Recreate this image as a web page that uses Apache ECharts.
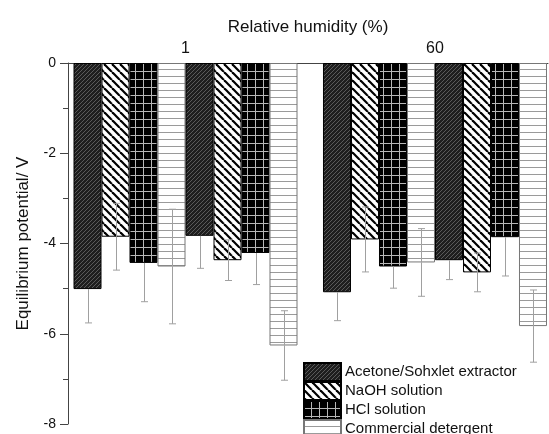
<!DOCTYPE html>
<html>
<head>
<meta charset="utf-8">
<script src="https://cdn.jsdelivr.net/npm/echarts@6/dist/echarts.min.js"></script>
<style>
html,body{margin:0;padding:0;background:#fff;}
#chart{width:549px;height:434px;}
</style>
</head>
<body>
<div id="chart"></div>
<script>
// ---- data ----
const groups = ['1', '60'];
const seriesNames = ['Acetone/Sohxlet extractor', 'NaOH solution', 'HCl solution', 'Commercial detergent'];
// first set of four bars in each humidity group
const acetoneA = [-5.01, -5.08];
const naohA    = [-3.85, -3.91];
const hclA     = [-4.43, -4.51];
const detA     = [-4.51, -4.42];
// second set of four bars in each humidity group
const acetoneB = [-3.83, -4.37];
const naohB    = [-4.37, -4.64];
const hclB     = [-4.21, -3.86];
const detB     = [-6.26, -5.83];
// error bars (symmetric)
const acetoneAErr = [0.75, 0.63];
const naohAErr    = [0.74, 0.72];
const hclAErr     = [0.86, 0.48];
const detAErr     = [1.27, 0.75];
const acetoneBErr = [0.72, 0.43];
const naohBErr    = [0.45, 0.43];
const hclBErr     = [0.70, 0.86];
const detBErr     = [0.77, 0.80];
const yTicks = [0, -2, -4, -6, -8];

// ---- patterns ----
function tile(w, h, draw) {
  const c = document.createElement('canvas');
  c.width = w; c.height = h;
  draw(c.getContext('2d'));
  return { image: c, repeat: 'repeat' };
}
const patAcetone = tile(4, 4, g => {
  g.fillStyle = '#1e1e1e'; g.fillRect(0, 0, 4, 4);
  g.strokeStyle = '#5a5a5a'; g.lineWidth = 1;
  [-4, 0, 4].forEach(k => { g.beginPath(); g.moveTo(k, 4); g.lineTo(k + 4, 0); g.stroke(); });
});
const patNaoh = tile(8, 8, g => {
  g.fillStyle = '#ffffff'; g.fillRect(0, 0, 8, 8);
  g.strokeStyle = '#000000'; g.lineWidth = 2.2;
  [-8, 0, 8].forEach(k => { g.beginPath(); g.moveTo(k, 0); g.lineTo(k + 8, 8); g.stroke(); });
});
const patHcl = tile(8, 8, g => {
  g.fillStyle = '#000000'; g.fillRect(0, 0, 8, 8);
  g.fillStyle = '#b8b8b8';
  g.fillRect(7, 0, 1, 8); g.fillRect(0, 7, 8, 1);
});
const patDet = tile(8, 7, g => {
  g.fillStyle = '#ffffff'; g.fillRect(0, 0, 8, 7);
  g.fillStyle = '#9a9a9a'; g.fillRect(0, 6, 8, 1);
});
const patterns = [patAcetone, patNaoh, patHcl, patDet];
const borders = ['#000', '#000', '#000', '#777'];
// upper half of the error bar is hidden inside the dark bars
const upperVisible = [false, true, false, true];

const BAR_W = 28;
const sets = [
  [acetoneA, naohA, hclA, detA],
  [acetoneB, naohB, hclB, detB]
];
const errSets = [
  [acetoneAErr, naohAErr, hclAErr, detAErr],
  [acetoneBErr, naohBErr, hclBErr, detBErr]
];

const series = [];
const errData = [];
sets.forEach((set, s) => {
  set.forEach((vals, i) => {
    const slot = s * 4 + i;
    series.push({
      name: seriesNames[i],
      type: 'bar',
      barWidth: BAR_W,
      barGap: '0%',
      data: vals.map((v, g) => [g + 1, v]),
      itemStyle: { color: patterns[i], borderColor: borders[i], borderWidth: 1 },
      emphasis: { disabled: true },
      z: 2
    });
    vals.forEach((v, g) => errData.push([g + 1, v, errSets[s][i][g], slot]));
  });
});
series.push({
  name: 'err',
  type: 'custom',
  z: 5,
  silent: true,
  data: errData,
  renderItem: function (params, api) {
    const x = api.value(0), v = api.value(1), e = api.value(2), slot = api.value(3);
    const c = api.coord([x, v]);
    const cx = Math.round(c[0] + (slot - 3.5) * BAR_W) + 0.5;
    const mid = c[1];
    const top = api.coord([x, v + e])[1];
    const bot = api.coord([x, v - e])[1];
    const st = { stroke: '#a0a0a0', lineWidth: 1 };
    const children = [
      { type: 'line', shape: { x1: cx, y1: mid, x2: cx, y2: bot }, style: st },
      { type: 'line', shape: { x1: cx - 3.5, y1: bot, x2: cx + 3.5, y2: bot }, style: st }
    ];
    if (upperVisible[slot % 4]) {
      children.push({ type: 'line', shape: { x1: cx, y1: top, x2: cx, y2: mid }, style: st });
      children.push({ type: 'line', shape: { x1: cx - 3.5, y1: top, x2: cx + 3.5, y2: top }, style: st });
    }
    return { type: 'group', children: children };
  }
});

const FONT = '"Liberation Sans", Arial, sans-serif';
const chart = echarts.init(document.getElementById('chart'), null, { renderer: 'canvas' });
chart.setOption({
  animation: false,
  backgroundColor: '#fff',
  textStyle: { fontFamily: FONT, color: '#111' },
  grid: { left: 68, right: 1, top: 63, bottom: 10, containLabel: false },
  legend: {
    data: seriesNames,
    orient: 'vertical',
    left: 303,
    top: 362,
    width: 240,
    height: 90,
    padding: 0,
    itemWidth: 37,
    itemHeight: 18,
    itemGap: -1,
    icon: 'rect',
    selectedMode: false,
    textStyle: { fontFamily: FONT, fontSize: 15, lineHeight: 18, color: '#111', padding: [0, 0, 0, -1] }
  },
  xAxis: {
    type: 'value',
    position: 'top',
    min: 0.529,
    max: 2.453,
    name: 'Relative humidity (%)',
    nameLocation: 'middle',
    nameGap: 26,
    nameTextStyle: { fontFamily: FONT, fontSize: 17, color: '#111' },
    axisLine: { show: true, onZero: false, lineStyle: { color: '#444', width: 1 } },
    axisTick: { show: false },
    splitLine: { show: false },
    axisLabel: {
      customValues: [1, 2],
      formatter: v => groups[Math.round(v) - 1],
      fontFamily: FONT, fontSize: 16, color: '#111', margin: 6
    }
  },
  yAxis: {
    type: 'value',
    min: yTicks[yTicks.length - 1],
    max: yTicks[0],
    interval: 2,
    name: 'Equilibrium potential/ V',
    nameLocation: 'middle',
    nameGap: 36,
    nameTextStyle: { fontFamily: FONT, fontSize: 17, color: '#111' },
    axisLine: { show: true, onZero: false, lineStyle: { color: '#444', width: 1 } },
    axisTick: { show: true, inside: false, length: 8, lineStyle: { color: '#444' } },
    minorTick: { show: true, splitNumber: 2, length: 5, lineStyle: { color: '#444' } },
    splitLine: { show: false },
    axisLabel: { fontFamily: FONT, fontSize: 14, color: '#111', margin: 12 }
  },
  series: series
});
</script>
</body>
</html>
